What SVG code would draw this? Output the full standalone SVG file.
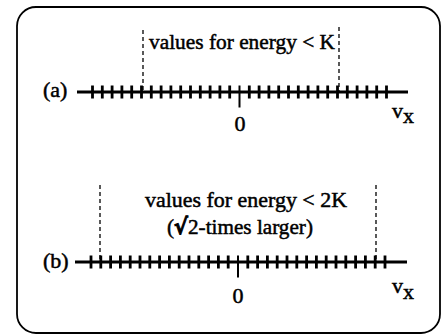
<svg xmlns="http://www.w3.org/2000/svg" width="442" height="336" viewBox="0 0 442 336">
<style>
text{font-family:"Liberation Serif","Times New Roman",serif;fill:#000;stroke:#000;stroke-width:0.5}
.lbl{font-size:22px}
.rt{font-family:"DejaVu Serif",serif;font-weight:bold;font-size:22px;stroke-width:1}
.axis{stroke:#000;stroke-width:2.8;fill:none}
.tick{stroke:#000;stroke-width:2.8}
.dash{stroke:#000;stroke-width:1.3;stroke-dasharray:4 3;fill:none}
.frame{fill:none;stroke:#000;stroke-width:1.8}
</style>
<defs>
<g id="ticks">
<path class="tick" d="M92.5,-6.5v13M102.3,-6.5v13M112.1,-6.5v13M121.9,-6.5v13M131.7,-6.5v13M141.5,-6.5v13M151.3,-6.5v13M161.1,-6.5v13M170.9,-6.5v13M180.7,-6.5v13M190.5,-6.5v13M200.3,-6.5v13M210.1,-6.5v13M219.9,-6.5v13M229.7,-6.5v13M249.3,-6.5v13M259.1,-6.5v13M268.9,-6.5v13M278.7,-6.5v13M288.5,-6.5v13M298.3,-6.5v13M308.1,-6.5v13M317.9,-6.5v13M327.7,-6.5v13M337.5,-6.5v13M347.3,-6.5v13M357.1,-6.5v13M366.9,-6.5v13M376.7,-6.5v13M386.5,-6.5v13"/>
<path d="M239.5,-6.5v22" stroke="#000" stroke-width="2"/>
</g>
</defs>
<rect id="frame" class="frame" x="17" y="7" width="423" height="326" rx="19" ry="19"/>
<g id="connectors">
<line class="axis" x1="77" y1="92" x2="408" y2="92"/>
<use href="#ticks" x="0" y="92"/>
<line class="dash" x1="143" y1="30" x2="143" y2="92"/>
<line class="dash" x1="339" y1="27" x2="339" y2="92"/>
<line class="axis" x1="75" y1="262" x2="407" y2="262"/>
<use href="#ticks" x="-1.5" y="262"/>
<line class="dash" x1="100" y1="185" x2="100" y2="262"/>
<line class="dash" x1="376" y1="185" x2="376" y2="262"/>
</g>
<g id="panel-a">
<text class="lbl" x="149" y="49" textLength="186" lengthAdjust="spacingAndGlyphs">values for energy &lt; K</text>
<text class="lbl" x="43" y="97">(a)</text>
<text class="lbl" x="240" y="131" text-anchor="middle">0</text>
<text class="lbl" x="392" y="118">v<tspan dy="5">x</tspan></text>
</g>
<g id="panel-b">
<text class="lbl" x="145" y="207" textLength="202" lengthAdjust="spacingAndGlyphs">values for energy &lt; 2K</text>
<text class="lbl" x="167" y="234" textLength="146" lengthAdjust="spacingAndGlyphs">(<tspan class="rt">√</tspan>2-times larger)</text>
<text class="lbl" x="43" y="268">(b)</text>
<text class="lbl" x="238" y="303" text-anchor="middle">0</text>
<text class="lbl" x="392" y="293">v<tspan dy="6">x</tspan></text>
</g>
</svg>
